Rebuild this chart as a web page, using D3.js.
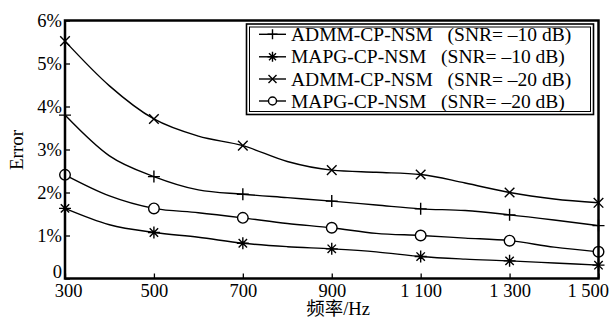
<!DOCTYPE html>
<html>
<head>
<meta charset="utf-8">
<script src="https://cdn.jsdelivr.net/npm/d3@7"></script>
<style>
  html, body { margin: 0; padding: 0; background: #fff; }
  svg { display: block; }
  text { font-family: "Liberation Serif", "Times New Roman", "Noto Sans CJK SC", serif; fill: #000; }
</style>
</head>
<body>
<svg id="chart" width="612" height="320"></svg>
<script>
// Frequency samples (Hz) and error (%) for each method / SNR
const freq = [300, 400, 500, 600, 700, 800, 900, 1000, 1100, 1200, 1300, 1400, 1500];
const admm10 = [3.80, 2.85, 2.37, 2.06, 1.96, 1.88, 1.80, 1.71, 1.62, 1.58, 1.48, 1.36, 1.23];
const mapg10 = [1.63, 1.25, 1.07, 0.96, 0.82, 0.74, 0.69, 0.62, 0.51, 0.45, 0.41, 0.36, 0.31];
const admm20 = [5.52, 4.48, 3.71, 3.31, 3.09, 2.72, 2.52, 2.47, 2.42, 2.22, 2.00, 1.85, 1.76];
const mapg20 = [2.41, 1.92, 1.63, 1.53, 1.41, 1.28, 1.18, 1.05, 1.00, 0.94, 0.88, 0.73, 0.62];

// Markers are drawn every 200 Hz
const markerFreq = [300, 500, 700, 900, 1100, 1300, 1500];
const xTicks = [300, 500, 700, 900, 1100, 1300, 1500];
const xTickLabels = ["300", "500", "700", "900", "1 100", "1 300", "1 500"];
const yTicks = [0, 1, 2, 3, 4, 5, 6];
const yTickLabels = ["0", "1%", "2%", "3%", "4%", "5%", "6%"];

const seriesNames = [
  "ADMM-CP-NSM\u2002 (SNR= \u201310 dB)",
  "MAPG-CP-NSM\u2002 (SNR= \u201310 dB)",
  "ADMM-CP-NSM\u2002 (SNR= \u201320 dB)",
  "MAPG-CP-NSM\u2002 (SNR= \u201320 dB)"
];
const seriesValues = [admm10, mapg10, admm20, mapg20];
const seriesMarkers = ["plus", "star", "cross", "circle"];

const svg = d3.select("#chart");
const plotL = 65, plotR = 598.5, plotT = 20.5, plotB = 278.5;

const x = d3.scaleLinear().domain([300, 1500]).range([plotL, plotR]);
const y = d3.scaleLinear().domain([0, 6]).range([plotB, plotT]);

// marker path generator, centred on (0,0)
function markerPath(type, s) {
  const p = d3.path();
  if (type === "plus") {
    p.moveTo(-s, 0); p.lineTo(s, 0); p.moveTo(0, -s); p.lineTo(0, s);
  } else if (type === "cross") {
    const c = s * 0.8;
    p.moveTo(-c, -c); p.lineTo(c, c); p.moveTo(-c, c); p.lineTo(c, -c);
  } else if (type === "star") {
    const c = s * 0.7;
    p.moveTo(-s, 0); p.lineTo(s, 0); p.moveTo(0, -s); p.lineTo(0, s);
    p.moveTo(-c, -c); p.lineTo(c, c); p.moveTo(-c, c); p.lineTo(c, -c);
  } else if (type === "circle") {
    p.moveTo(s, 0); p.arc(0, 0, s, 0, 2 * Math.PI);
  }
  return p.toString();
}

// axes with inward ticks
const xAxis = d3.axisBottom(x).tickValues(xTicks).tickSize(-5).tickPadding(5.5)
  .tickFormat((d, i) => xTickLabels[i]);
const gx = svg.append("g").attr("transform", `translate(0,${plotB})`).call(xAxis);
gx.select(".domain").remove();
gx.selectAll(".tick line").attr("stroke", "#000").attr("stroke-width", 1.3);
gx.selectAll(".tick text").style("font-size", "18.5px").attr("fill", "#000");
gx.selectAll(".tick").filter((d, i) => i === 0)
  .select("text").attr("dx", 3);
gx.selectAll(".tick").filter((d, i) => i === xTicks.length - 1)
  .select("text").attr("text-anchor", "end").attr("dx", 10);

const yAxis = d3.axisLeft(y).tickValues(yTicks).tickSize(-5).tickPadding(3)
  .tickFormat((d, i) => yTickLabels[i]);
const gy = svg.append("g").attr("transform", `translate(${plotL},0)`).call(yAxis);
gy.select(".domain").remove();
gy.selectAll(".tick line").attr("stroke", "#000").attr("stroke-width", 1.3);
gy.selectAll(".tick text").style("font-size", "18.5px").attr("fill", "#000");
// the zero label sits a little above the corner so it clears the first x label
gy.selectAll(".tick").filter(d => d === 0)
  .select("text").attr("y", -7);

// data lines and markers
const line = d3.line().x((d, i) => x(freq[i])).y(d => y(d)).curve(d3.curveMonotoneX);
seriesValues.forEach((vals, k) => {
  svg.append("path").datum(vals)
    .attr("d", line)
    .attr("fill", "none").attr("stroke", "#000").attr("stroke-width", 1.4);
  const pts = markerFreq.map(f => ({ f, v: vals[freq.indexOf(f)] }));
  svg.append("g").selectAll("path").data(pts).join("path")
    .attr("transform", d => `translate(${x(d.f)},${y(d.v)})`)
    .attr("d", markerPath(seriesMarkers[k], seriesMarkers[k] === "circle" ? 5.3 : 6))
    .attr("fill", seriesMarkers[k] === "circle" ? "#fff" : "none")
    .attr("stroke", "#000").attr("stroke-width", 1.4);
});

// plot frame
svg.append("rect")
  .attr("x", plotL).attr("y", plotT)
  .attr("width", plotR - plotL).attr("height", plotB - plotT)
  .attr("fill", "none").attr("stroke", "#000").attr("stroke-width", 2.5);

// legend
const lg = svg.append("g");
lg.append("rect").attr("x", 246.5).attr("y", 24).attr("width", 347).attr("height", 90.5)
  .attr("fill", "#fff").attr("stroke", "#000").attr("stroke-width", 1.6);
lg.append("rect").attr("x", 249.5).attr("y", 27).attr("width", 341).attr("height", 84.5)
  .attr("fill", "none").attr("stroke", "#000").attr("stroke-width", 1);
const rowY = [34.3, 56.8, 79, 101];
seriesNames.forEach((name, k) => {
  const cy = rowY[k];
  lg.append("line").attr("x1", 259).attr("x2", 286).attr("y1", cy).attr("y2", cy)
    .attr("stroke", "#000").attr("stroke-width", 1.4);
  lg.append("path")
    .attr("transform", `translate(272.5,${cy})`)
    .attr("d", markerPath(seriesMarkers[k], seriesMarkers[k] === "circle" ? 4 : 5))
    .attr("fill", seriesMarkers[k] === "circle" ? "#fff" : "none")
    .attr("stroke", "#000").attr("stroke-width", 1.4);
  lg.append("text").attr("x", 291).attr("y", cy + 6.5)
    .style("font-size", "19.5px").text(name);
});

// axis titles
svg.append("text")
  .attr("transform", "translate(23,150) rotate(-90)")
  .attr("text-anchor", "middle")
  .style("font-size", "19px").text("Error");
svg.append("text")
  .attr("x", 338).attr("y", 315)
  .attr("text-anchor", "middle")
  .style("font-size", "18.5px").text("频率/Hz");
</script>
</body>
</html>
